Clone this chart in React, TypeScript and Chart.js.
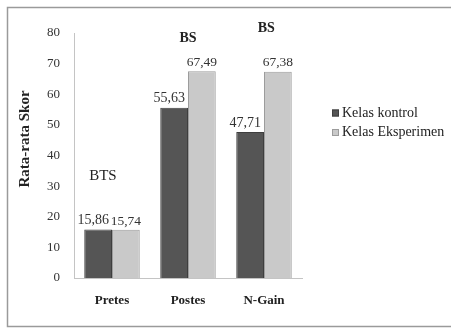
import React, { useEffect, useRef } from "react";
import { Chart, registerables } from "chart.js";

Chart.register(...registerables);

const categories = ["Pretes", "Postes", "N-Gain"];
const kelasKontrol = [15.86, 55.63, 47.71];
const kelasEksperimen = [15.74, 67.49, 67.38];
const seriesLabels = ["Kelas kontrol", "Kelas Eksperimen"];
const yTicks = [0, 10, 20, 30, 40, 50, 60, 70, 80];
const yTitle = "Rata-rata Skor";
// category notes: text, category position (index), value height
const noteTexts = ["BTS", "BS", "BS"];
const notePositions = [-0.12, 0, 0.03];
const noteValues = [33.3, 78.4, 81.6];
const noteBold = [false, true, true];

const DARK = "#555555";
const LIGHT = "#c9c9c9";
const SERIF = "'Liberation Serif', 'Times New Roman', serif";

const fmt = (v: number) => v.toFixed(2).replace(".", ",");

const decorPlugin = {
  id: "decor",
  beforeDraw(chart: any) {
    const ctx = chart.ctx;
    ctx.save();
    ctx.strokeStyle = "#9a9a9a";
    ctx.lineWidth = 1.5;
    ctx.beginPath();
    ctx.moveTo(470, 7.5);
    ctx.lineTo(7.5, 7.5);
    ctx.lineTo(7.5, 326.5);
    ctx.lineTo(470, 326.5);
    ctx.stroke();
    ctx.restore();
  },
  afterDraw(chart: any) {
    const ctx = chart.ctx;
    const xs = chart.scales.x;
    const ys = chart.scales.y;
    ctx.save();

    // value labels above bars (control labels sit a little to the left)
    ctx.fillStyle = "#333";
    ctx.textAlign = "center";
    ctx.textBaseline = "bottom";
    chart.data.datasets.forEach((ds: any, di: number) => {
      const meta = chart.getDatasetMeta(di);
      ctx.font = di === 0 ? `14px ${SERIF}` : `13.5px ${SERIF}`;
      meta.data.forEach((bar: any, i: number) => {
        const dx = di === 0 ? -5 : 0;
        ctx.fillText(fmt(ds.data[i]), bar.x + dx, bar.y - 2);
      });
    });

    // category notes
    ctx.textBaseline = "middle";
    noteTexts.forEach((t, i) => {
      ctx.font = noteBold[i] ? `bold 14px ${SERIF}` : `15px ${SERIF}`;
      ctx.fillStyle = "#222";
      const cx = xs.getPixelForValue(i + notePositions[i]);
      const cy = ys.getPixelForValue(noteValues[i]);
      ctx.fillText(t, cx, cy);
    });

    // y axis title
    ctx.save();
    ctx.translate(25, 139);
    ctx.rotate(-Math.PI / 2);
    ctx.font = `bold 15px ${SERIF}`;
    ctx.fillStyle = "#222";
    ctx.textAlign = "center";
    ctx.textBaseline = "middle";
    ctx.fillText(yTitle, 0, 0);
    ctx.restore();

    // legend
    ctx.font = `14px ${SERIF}`;
    ctx.textAlign = "left";
    ctx.textBaseline = "middle";
    chart.data.datasets.forEach((ds: any, di: number) => {
      const ly = 113 + di * 19.5;
      ctx.fillStyle = ds.backgroundColor;
      ctx.fillRect(332, ly - 3.5, 7, 7);
      ctx.strokeStyle = ds.borderColor;
      ctx.lineWidth = 1;
      ctx.strokeRect(332.5, ly - 3, 6, 6);
      ctx.fillStyle = "#222";
      ctx.fillText(ds.label, 342, ly);
    });

    ctx.restore();
  },
};

export default function App() {
  const ref = useRef<HTMLCanvasElement>(null);

  useEffect(() => {
    document.body.style.margin = "0";
    const canvas = ref.current;
    if (!canvas) return;
    const chart = new Chart(canvas, {
      type: "bar",
      data: {
        labels: categories,
        datasets: [
          {
            label: seriesLabels[0],
            data: kelasKontrol,
            backgroundColor: DARK,
            borderColor: "#3e3e3e",
            borderWidth: 1,
          },
          {
            label: seriesLabels[1],
            data: kelasEksperimen,
            backgroundColor: LIGHT,
            borderColor: "#9c9c9c",
            borderWidth: 1,
          },
        ],
      },
      options: {
        responsive: false,
        animation: false,
        layout: { padding: { top: 33, left: 12, right: 149, bottom: 0 } },
        datasets: {
          bar: { barPercentage: 1, categoryPercentage: 0.73 },
        },
        plugins: {
          legend: { display: false },
          tooltip: { enabled: false },
        },
        scales: {
          x: {
            grid: { display: false, drawTicks: false },
            border: { display: true, color: "#c4c4c4", width: 1 },
            ticks: {
              font: { family: SERIF, size: 13, weight: "bold" },
              color: "#222",
              padding: 15,
            },
            afterFit(scale: any) {
              scale.height = 50;
            },
          },
          y: {
            min: 0,
            max: 80,
            afterBuildTicks(scale: any) {
              scale.ticks = yTicks.map((v) => ({ value: v }));
            },
            grid: { display: false, drawTicks: false },
            border: { display: true, color: "#c4c4c4", width: 1 },
            ticks: {
              font: { family: SERIF, size: 13 },
              color: "#333",
              padding: 14,
            },
            afterFit(scale: any) {
              scale.width = 62;
            },
          },
        },
      },
      plugins: [decorPlugin],
    });
    return () => chart.destroy();
  }, []);

  return <canvas ref={ref} width={451} height={328} style={{ display: "block" }} />;
}
